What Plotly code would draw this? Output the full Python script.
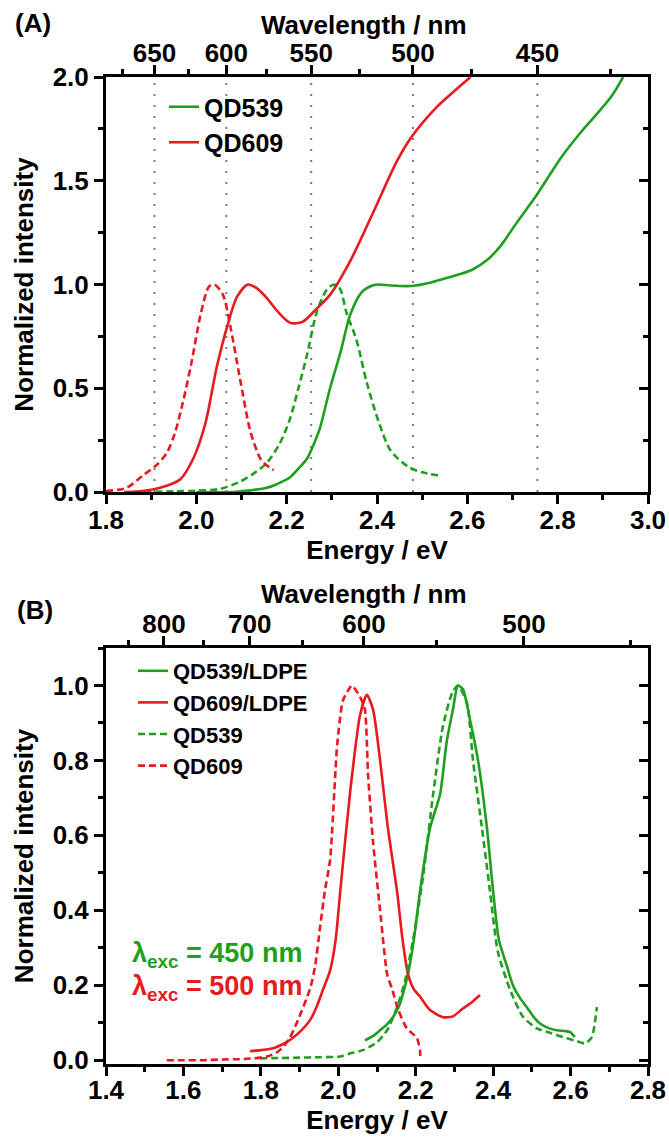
import plotly.graph_objects as go

# ---------------- data ----------------
HC = 1239.84  # eV*nm, energy <-> wavelength

# Panel A : absorption (solid) and PL (dashed)
qd539_abs_E = [2.00, 2.08, 2.12, 2.156, 2.18, 2.207, 2.225, 2.245, 2.26, 2.274, 2.296, 2.32, 2.34, 2.365, 2.39,
               2.405, 2.43, 2.476, 2.52, 2.56, 2.61, 2.645, 2.675, 2.71, 2.75, 2.807, 2.85, 2.882, 2.92, 2.945]
qd539_abs_I = [0.0, 0.0, 0.008, 0.02, 0.04, 0.07, 0.11, 0.16, 0.23, 0.31, 0.50, 0.68, 0.85, 0.96, 0.995,
               1.0, 0.995, 0.993, 1.01, 1.035, 1.07, 1.12, 1.19, 1.30, 1.42, 1.61, 1.73, 1.81, 1.91, 2.0]

qd609_abs_E = [1.84, 1.875, 1.92, 1.964, 1.993, 2.02, 2.045, 2.07, 2.09, 2.114, 2.135, 2.158, 2.18, 2.208,
               2.235, 2.267, 2.296, 2.34, 2.39, 2.443, 2.476, 2.53, 2.57, 2.607]
qd609_abs_I = [0.0, 0.003, 0.02, 0.06, 0.16, 0.33, 0.60, 0.81, 0.94, 1.0, 0.98, 0.93, 0.87, 0.815,
               0.82, 0.885, 0.95, 1.11, 1.34, 1.59, 1.71, 1.85, 1.93, 2.0]

qd609_pl_A_E = [1.80, 1.845, 1.882, 1.912, 1.935, 1.952, 1.97, 1.989, 2.01, 2.028, 2.04, 2.059, 2.076,
                2.098, 2.12, 2.142, 2.155, 2.171]
qd609_pl_A_I = [0.005, 0.02, 0.08, 0.13, 0.19, 0.28, 0.43, 0.62, 0.86, 0.99, 1.0, 0.95, 0.79,
                0.53, 0.29, 0.16, 0.13, 0.105]

qd539_pl_A_E = [1.86, 1.95, 2.0, 2.052, 2.097, 2.134, 2.156, 2.185, 2.207, 2.226, 2.245, 2.267, 2.289,
                2.305, 2.318, 2.333, 2.355, 2.377, 2.405, 2.43, 2.47, 2.5, 2.535]
qd539_pl_A_I = [0.0, 0.003, 0.006, 0.015, 0.05, 0.10, 0.14, 0.235, 0.35, 0.50, 0.66, 0.87, 0.975,
                1.0, 0.98, 0.86, 0.73, 0.53, 0.33, 0.20, 0.12, 0.095, 0.08]

wl_major_A = [650, 600, 550, 500, 450]
wl_minor_A = [675, 625, 575, 525, 475, 425]
wl_guides_A = [650, 600, 550, 500, 450]

# Panel B : PL in LDPE (solid) and in solution (dashed)
qd539_ldpe_E = [2.069, 2.09, 2.108, 2.125, 2.141, 2.155, 2.165, 2.18, 2.195, 2.211, 2.237, 2.263, 2.28,
                2.296, 2.309, 2.322, 2.34, 2.361, 2.384, 2.40, 2.415, 2.436, 2.451, 2.47, 2.488, 2.505,
                2.521, 2.545, 2.565, 2.585, 2.599, 2.611]
qd539_ldpe_I = [0.053, 0.065, 0.08, 0.095, 0.115, 0.14, 0.17, 0.23, 0.32, 0.45, 0.62, 0.71, 0.85,
                0.935, 1.0, 0.99, 0.91, 0.80, 0.62, 0.45, 0.32, 0.25, 0.20, 0.165, 0.14, 0.115,
                0.098, 0.085, 0.08, 0.078, 0.075, 0.062]

qd609_ldpe_E = [1.772, 1.80, 1.832, 1.855, 1.875, 1.90, 1.927, 1.945, 1.96, 1.979, 1.993, 2.005, 2.03,
                2.056, 2.074, 2.09, 2.108, 2.128, 2.152, 2.165, 2.18, 2.195, 2.211, 2.237, 2.27,
                2.296, 2.322, 2.345, 2.366]
qd609_ldpe_I = [0.024, 0.027, 0.032, 0.042, 0.054, 0.075, 0.107, 0.145, 0.187, 0.24, 0.32, 0.45, 0.71,
                0.92, 0.975, 0.935, 0.80, 0.62, 0.45, 0.33, 0.23, 0.19, 0.17, 0.134, 0.115,
                0.117, 0.138, 0.155, 0.174]

qd539_sol_E = [1.798, 1.85, 1.90, 1.95, 2.005, 2.03, 2.064, 2.10, 2.126, 2.152, 2.172, 2.193, 2.219,
               2.245, 2.27, 2.294, 2.309, 2.332, 2.348, 2.371, 2.392, 2.412, 2.443, 2.477, 2.513,
               2.55, 2.58, 2.61, 2.637, 2.655, 2.668]
qd539_sol_I = [0.005, 0.006, 0.007, 0.008, 0.01, 0.018, 0.027, 0.048, 0.08, 0.142, 0.21, 0.32, 0.49,
               0.71, 0.89, 0.98, 1.0, 0.955, 0.80, 0.62, 0.45, 0.29, 0.19, 0.116, 0.085,
               0.072, 0.062, 0.053, 0.045, 0.062, 0.142]

qd609_sol_E = [1.557, 1.60, 1.65, 1.70, 1.75, 1.78, 1.816, 1.84, 1.857, 1.875, 1.893, 1.927, 1.94,
               1.953, 1.965, 1.979, 1.997, 2.012, 2.035, 2.056, 2.069, 2.077, 2.09, 2.108, 2.126,
               2.139, 2.155, 2.177, 2.203, 2.211, 2.212]
qd609_sol_I = [0.0, 0.0, 0.0, 0.002, 0.003, 0.005, 0.01, 0.02, 0.035, 0.06, 0.10, 0.19, 0.25,
               0.355, 0.45, 0.535, 0.84, 0.96, 1.0, 0.97, 0.935, 0.76, 0.58, 0.40, 0.23,
               0.19, 0.134, 0.085, 0.06, 0.027, 0.0]

wl_major_B = [800, 700, 600, 500]
wl_minor_B = [850, 750, 650, 550, 450]

# ---------------- style / geometry ----------------
W, H = 669, 1139
ML, MR, MT, MB = 106, 21, 77, 75
PW, PH = W - ML - MR, H - MT - MB


def pxx(px):
    return (px - ML) / PW


def pxy(py):
    return (H - MB - py) / PH


GREEN = '#1F9F1F'
RED = '#E8191F'
FONT = 'Liberation Sans, Arial, sans-serif'
FS = 26
LW = 2.6
DASH = '7px,4px'


def fnt(size=FS, color='black'):
    return dict(family=FONT, size=size, color=color, weight='bold')


def e_of(wls):
    return [HC / w for w in wls]


def line(color, dash=None, smooth=0.8):
    d = dict(color=color, width=LW, shape='spline', smoothing=smooth)
    if dash:
        d['dash'] = dash
    return d


fig = go.Figure()

# ---- Panel A ----
gx, gy = [], []
for w in wl_guides_A:
    gx += [HC / w, HC / w, None]
    gy += [0, 2, None]
fig.add_trace(go.Scatter(x=gx, y=gy, mode='lines', showlegend=False, hoverinfo='skip',
                         line=dict(color='#7a7a7a', width=2, dash='2px,9px'), xaxis='x', yaxis='y'))

fig.add_trace(go.Scatter(x=qd539_pl_A_E, y=qd539_pl_A_I, mode='lines', showlegend=False,
                         line=line(GREEN, DASH), xaxis='x', yaxis='y'))
fig.add_trace(go.Scatter(x=qd609_pl_A_E, y=qd609_pl_A_I, mode='lines', showlegend=False,
                         line=line(RED, DASH), xaxis='x', yaxis='y'))
fig.add_trace(go.Scatter(x=qd539_abs_E, y=qd539_abs_I, mode='lines', name='QD539', legend='legend',
                         line=line(GREEN), xaxis='x', yaxis='y'))
fig.add_trace(go.Scatter(x=qd609_abs_E, y=qd609_abs_I, mode='lines', name='QD609', legend='legend',
                         line=line(RED), xaxis='x', yaxis='y'))
fig.add_trace(go.Scatter(x=[None], y=[None], xaxis='x2', yaxis='y', showlegend=False, hoverinfo='skip'))
fig.add_trace(go.Scatter(x=[None], y=[None], xaxis='x', yaxis='y2', showlegend=False, hoverinfo='skip'))

# ---- Panel B ----
fig.add_trace(go.Scatter(x=qd539_ldpe_E, y=qd539_ldpe_I, mode='lines', name='QD539/LDPE', legend='legend2',
                         line=line(GREEN, smooth=0.6), xaxis='x3', yaxis='y3'))
fig.add_trace(go.Scatter(x=qd609_ldpe_E, y=qd609_ldpe_I, mode='lines', name='QD609/LDPE', legend='legend2',
                         line=line(RED, smooth=0.6), xaxis='x3', yaxis='y3'))
fig.add_trace(go.Scatter(x=qd539_sol_E, y=qd539_sol_I, mode='lines', name='QD539', legend='legend2',
                         line=line(GREEN, DASH, 0.6), xaxis='x3', yaxis='y3'))
fig.add_trace(go.Scatter(x=qd609_sol_E, y=qd609_sol_I, mode='lines', name='QD609', legend='legend2',
                         line=line(RED, DASH, 0.5), xaxis='x3', yaxis='y3'))
fig.add_trace(go.Scatter(x=[None], y=[None], xaxis='x4', yaxis='y3', showlegend=False, hoverinfo='skip'))
fig.add_trace(go.Scatter(x=[None], y=[None], xaxis='x3', yaxis='y4', showlegend=False, hoverinfo='skip'))

# ---------------- axes ----------------
ydomA = [pxy(492), 1.0]
ydomB = [0.0, pxy(648)]

base = dict(showline=True, linecolor='black', linewidth=3, ticks='outside', ticklen=9, tickwidth=2.5,
            tickcolor='black', showgrid=False, zeroline=False, tickfont=fnt(), automargin=False)
minor_out = dict(ticks='outside', ticklen=5, tickwidth=2.5, tickcolor='black', showgrid=False)
minor_in = dict(ticks='inside', ticklen=5, tickwidth=2.5, tickcolor='black', showgrid=False)

fig.update_layout(
    xaxis=dict(base, domain=[0, 1], anchor='y', range=[1.8, 3.0], tick0=1.8, dtick=0.2, tickformat='.1f',
               ticklabelstandoff=-6, minor=dict(minor_out, dtick=0.1),
               title=dict(text='Energy / eV', font=fnt(), standoff=0)),
    xaxis2=dict(base, overlaying='x', anchor='y', side='top', range=[1.8, 3.0], tickmode='array',
                tickvals=e_of(wl_major_A), ticktext=[str(w) for w in wl_major_A], ticklabelstandoff=-7,
                minor=dict(minor_out, tickmode='array', tickvals=e_of(wl_minor_A))),
    yaxis=dict(base, domain=ydomA, anchor='x', range=[0, 2.0], tick0=0, dtick=0.5, tickformat='.1f',
               minor=dict(minor_out, dtick=0.25), title=dict(text='Normalized intensity', font=fnt(), standoff=12)),
    yaxis2=dict(base, overlaying='y', anchor='x', side='right', range=[0, 2.0], ticks='inside',
                showticklabels=False, tick0=0, dtick=0.5, minor=dict(minor_in, dtick=0.25)),
    xaxis3=dict(base, domain=[0, 1], anchor='y3', range=[1.4, 2.8], tick0=1.4, dtick=0.2, tickformat='.1f',
                ticklabelstandoff=-8, minor=dict(minor_out, dtick=0.1),
                title=dict(text='Energy / eV', font=fnt(), standoff=4)),
    xaxis4=dict(base, overlaying='x3', anchor='y3', side='top', range=[1.4, 2.8], tickmode='array',
                tickvals=e_of(wl_major_B), ticktext=[str(w) for w in wl_major_B], ticklabelstandoff=-7,
                minor=dict(minor_out, tickmode='array', tickvals=e_of(wl_minor_B))),
    yaxis3=dict(base, domain=ydomB, anchor='x3', range=[-0.01, 1.1], tick0=0, dtick=0.2, tickformat='.1f',
                minor=dict(minor_out, dtick=0.1), title=dict(text='Normalized intensity', font=fnt(), standoff=12)),
    yaxis4=dict(base, overlaying='y3', anchor='x3', side='right', range=[-0.01, 1.1], ticks='inside',
                showticklabels=False, tick0=0, dtick=0.2, minor=dict(minor_in, dtick=0.1)),
)

fig.update_layout(
    width=W, height=H, margin=dict(l=ML, r=MR, t=MT, b=MB, autoexpand=False),
    paper_bgcolor='white', plot_bgcolor='white', font=fnt(),
    legend=dict(x=pxx(164), y=pxy(84), xanchor='left', yanchor='top', bgcolor='rgba(0,0,0,0)',
                font=fnt(25), tracegroupgap=0),
    legend2=dict(x=pxx(133), y=pxy(650), xanchor='left', yanchor='top', bgcolor='rgba(0,0,0,0)',
                 font=fnt(22), tracegroupgap=0),
    annotations=[
        dict(text='Wavelength / nm', x=pxx(364), y=pxy(25), xref='paper', yref='paper', xanchor='center',
             yanchor='middle', showarrow=False, font=fnt()),
        dict(text='Wavelength / nm', x=pxx(364), y=pxy(594), xref='paper', yref='paper', xanchor='center',
             yanchor='middle', showarrow=False, font=fnt()),
        dict(text='(A)', x=pxx(13), y=pxy(23), xref='paper', yref='paper', xanchor='left', yanchor='middle',
             showarrow=False, font=fnt()),
        dict(text='(B)', x=pxx(15), y=pxy(610), xref='paper', yref='paper', xanchor='left', yanchor='middle',
             showarrow=False, font=fnt()),
        dict(text='λ<sub>exc</sub> = 450 nm', x=pxx(130), y=pxy(955), xref='paper', yref='paper',
             xanchor='left', yanchor='middle', showarrow=False, font=fnt(27, GREEN)),
        dict(text='λ<sub>exc</sub> = 500 nm', x=pxx(130), y=pxy(988), xref='paper', yref='paper',
             xanchor='left', yanchor='middle', showarrow=False, font=fnt(27, RED)),
    ],
)

fig.write_html('out.html', post_script="document.body.style.margin='0px';",
               config={'displayModeBar': False})
